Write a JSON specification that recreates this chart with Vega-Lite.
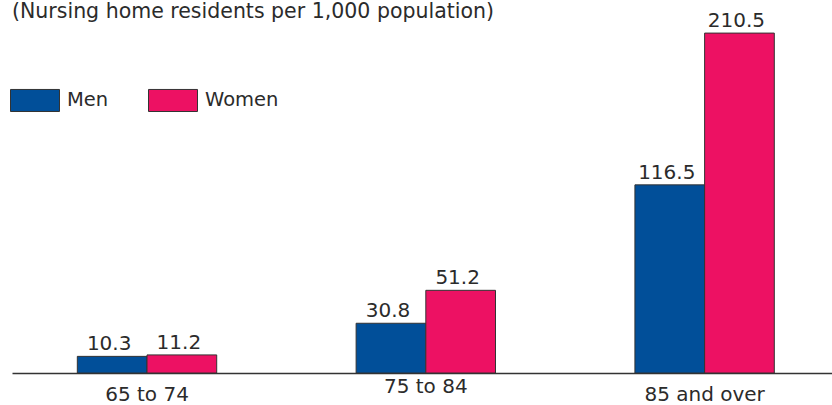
{
  "$schema": "https://vega.github.io/schema/vega-lite/v6.json",
  "autosize": "none",
  "width": 820,
  "height": 353,
  "padding": {"left": 12, "top": 20, "right": 0, "bottom": 32},
  "background": "white",
  "title": {
    "text": "(Nursing home residents per 1,000 population)",
    "anchor": "start",
    "frame": "group",
    "font": "DejaVu Sans",
    "fontSize": 20.5,
    "fontWeight": "normal",
    "color": "#2b2b2b",
    "offset": -11
  },
  "config": {
    "view": {"stroke": null},
    "font": "DejaVu Sans"
  },
  "data": {
    "values": [
      {"age": "65 to 74", "sex": "Men", "value": 10.3},
      {"age": "65 to 74", "sex": "Women", "value": 11.2},
      {"age": "75 to 84", "sex": "Men", "value": 30.8},
      {"age": "75 to 84", "sex": "Women", "value": 51.2},
      {"age": "85 and over", "sex": "Men", "value": 116.5},
      {"age": "85 and over", "sex": "Women", "value": 210.5}
    ]
  },
  "encoding": {
    "x": {
      "field": "age",
      "type": "nominal",
      "sort": null,
      "scale": {"paddingInner": 0.5, "paddingOuter": 0.2206, "align": 0.531},
      "axis": {
        "title": null,
        "ticks": false,
        "tickSize": 0,
        "domain": true,
        "domainColor": "#333333",
        "domainWidth": 1.5,
        "labelAngle": 0,
        "labelFont": "DejaVu Sans",
        "labelFontSize": 20,
        "labelColor": "#2b2b2b",
        "labelBaseline": "alphabetic",
        "labelPadding": {
          "condition": {"test": "datum.value === '75 to 84'", "value": 19},
          "value": 27
        }
      }
    },
    "xOffset": {
      "field": "sex",
      "type": "nominal",
      "scale": {"paddingInner": 0, "paddingOuter": 0}
    },
    "y": {
      "field": "value",
      "type": "quantitative",
      "scale": {"domain": [0, 218.6], "nice": false},
      "axis": null
    }
  },
  "layer": [
    {
      "mark": {"type": "bar", "stroke": "#333333", "strokeWidth": 1},
      "encoding": {
        "color": {
          "field": "sex",
          "type": "nominal",
          "scale": {"domain": ["Men", "Women"], "range": ["#014f99", "#ed1163"]},
          "legend": {
            "title": null,
            "orient": "none",
            "legendX": -2,
            "legendY": 55,
            "direction": "horizontal",
            "padding": 0,
            "symbolType": "M-1,-0.45H1V0.45H-1Z",
            "symbolSize": 2401,
            "symbolStrokeColor": "#333333",
            "symbolStrokeWidth": 1,
            "symbolOpacity": 1,
            "labelFont": "DejaVu Sans",
            "labelFontSize": 19.5,
            "labelColor": "#2b2b2b",
            "labelOffset": 7,
            "columnPadding": 37,
            "labelLimit": 200
          }
        }
      }
    },
    {
      "mark": {
        "type": "text",
        "font": "DejaVu Sans",
        "fontSize": 20,
        "color": "#2b2b2b",
        "baseline": "alphabetic",
        "align": "center",
        "dx": -3,
        "dy": -6
      },
      "encoding": {
        "text": {"field": "value", "type": "quantitative", "format": ".1f"}
      }
    }
  ]
}
